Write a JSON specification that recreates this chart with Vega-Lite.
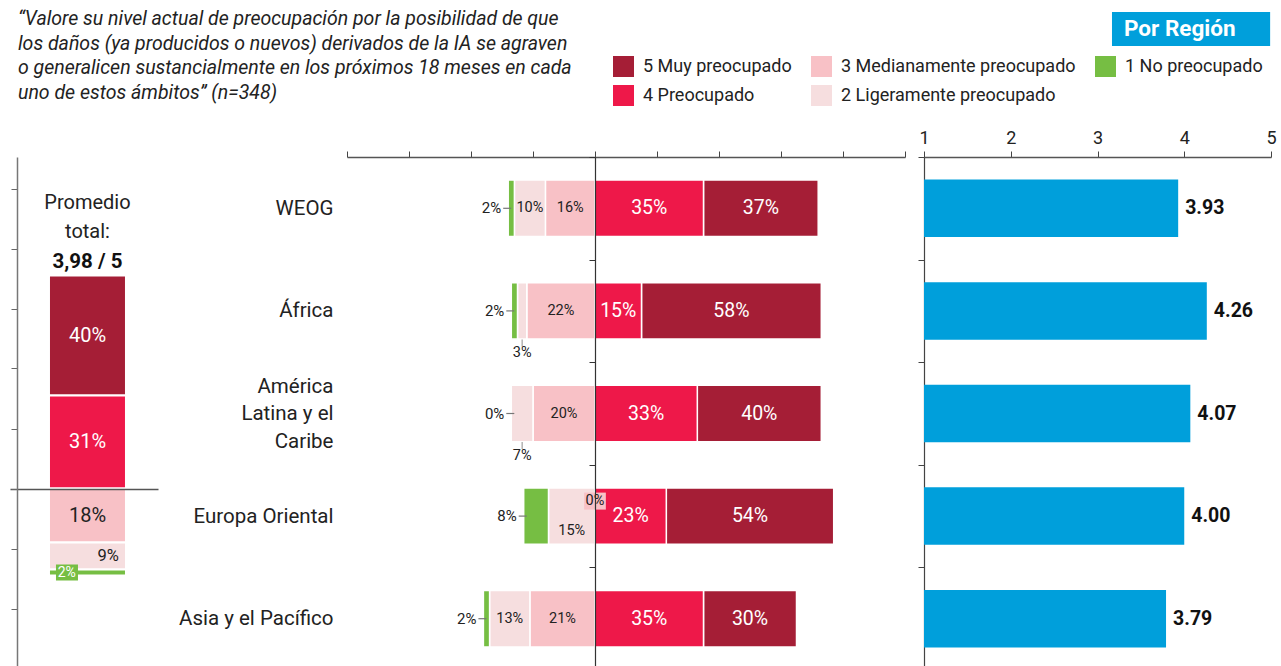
{
  "$schema": "https://vega.github.io/schema/vega-lite/v6.json",
  "width": 1281,
  "height": 666,
  "autosize": {"type": "none"},
  "padding": 0,
  "background": "white",
  "config": {"font": "Roboto", "view": {"stroke": null}, "axis": {"labelFont": "Roboto"}},
  "title": {
    "text": ["“Valore su nivel actual de preocupación por la posibilidad de que", "los daños (ya producidos o nuevos) derivados de la IA se agraven", "o generalicen sustancialmente en los próximos 18 meses en cada", "uno de estos ámbitos” (n=348)"],
    "anchor": "start", "frame": "group", "orient": "top", "offset": -132, "baseline": "bottom", "dx": 18,
    "font": "Roboto", "fontStyle": "italic", "fontWeight": "normal", "fontSize": 19.5, "lineHeight": 24.5, "color": "#222"
  },
  "datasets": {
    "total": [
      {"grp": "Total", "level": 5, "nivel": "5 Muy preocupado", "pct": 40},
      {"grp": "Total", "level": 4, "nivel": "4 Preocupado", "pct": 31},
      {"grp": "Total", "level": 3, "nivel": "3 Medianamente preocupado", "pct": 18},
      {"grp": "Total", "level": 2, "nivel": "2 Ligeramente preocupado", "pct": 9},
      {"grp": "Total", "level": 1, "nivel": "1 No preocupado", "pct": 2}
    ],
    "regions": [
      {"region": "WEOG", "level": 5, "nivel": "5 Muy preocupado", "pct": 37},
      {"region": "WEOG", "level": 4, "nivel": "4 Preocupado", "pct": 35},
      {"region": "WEOG", "level": 3, "nivel": "3 Medianamente preocupado", "pct": 16},
      {"region": "WEOG", "level": 2, "nivel": "2 Ligeramente preocupado", "pct": 10},
      {"region": "WEOG", "level": 1, "nivel": "1 No preocupado", "pct": 2},
      {"region": "África", "level": 5, "nivel": "5 Muy preocupado", "pct": 58},
      {"region": "África", "level": 4, "nivel": "4 Preocupado", "pct": 15},
      {"region": "África", "level": 3, "nivel": "3 Medianamente preocupado", "pct": 22},
      {"region": "África", "level": 2, "nivel": "2 Ligeramente preocupado", "pct": 3},
      {"region": "África", "level": 1, "nivel": "1 No preocupado", "pct": 2},
      {"region": "América Latina y el Caribe", "level": 5, "nivel": "5 Muy preocupado", "pct": 40},
      {"region": "América Latina y el Caribe", "level": 4, "nivel": "4 Preocupado", "pct": 33},
      {"region": "América Latina y el Caribe", "level": 3, "nivel": "3 Medianamente preocupado", "pct": 20},
      {"region": "América Latina y el Caribe", "level": 2, "nivel": "2 Ligeramente preocupado", "pct": 7},
      {"region": "América Latina y el Caribe", "level": 1, "nivel": "1 No preocupado", "pct": 0},
      {"region": "Europa Oriental", "level": 5, "nivel": "5 Muy preocupado", "pct": 54},
      {"region": "Europa Oriental", "level": 4, "nivel": "4 Preocupado", "pct": 23},
      {"region": "Europa Oriental", "level": 3, "nivel": "3 Medianamente preocupado", "pct": 0},
      {"region": "Europa Oriental", "level": 2, "nivel": "2 Ligeramente preocupado", "pct": 15},
      {"region": "Europa Oriental", "level": 1, "nivel": "1 No preocupado", "pct": 8},
      {"region": "Asia y el Pacífico", "level": 5, "nivel": "5 Muy preocupado", "pct": 30},
      {"region": "Asia y el Pacífico", "level": 4, "nivel": "4 Preocupado", "pct": 35},
      {"region": "Asia y el Pacífico", "level": 3, "nivel": "3 Medianamente preocupado", "pct": 21},
      {"region": "Asia y el Pacífico", "level": 2, "nivel": "2 Ligeramente preocupado", "pct": 13},
      {"region": "Asia y el Pacífico", "level": 1, "nivel": "1 No preocupado", "pct": 2}
    ],
    "avg": [
      {"region": "WEOG", "avg": 3.93},
      {"region": "África", "avg": 4.26},
      {"region": "América Latina y el Caribe", "avg": 4.07},
      {"region": "Europa Oriental", "avg": 4.00},
      {"region": "Asia y el Pacífico", "avg": 3.79}
    ]
  },
  "layer": [
    {
      "data": {"name": "total"},
      "transform": [
        {"calculate": "datum.level <= 3 ? -datum.pct : datum.pct", "as": "signed"},
        {"calculate": "abs(datum.level - 3.5)", "as": "ord"},
        {"stack": "signed", "groupby": ["grp"], "sort": [{"field": "ord", "order": "ascending"}], "as": ["y0", "y1"], "offset": "zero"},
        {"calculate": "(datum.y0 + datum.y1) / 2", "as": "mid"},
        {"calculate": "datum.pct + '%'", "as": "label"}
      ],
      "encoding": {
        "x": {"field": "grp", "type": "nominal", "scale": {"range": [10, 158], "paddingInner": 0, "paddingOuter": 0.461, "align": 0.549}, "axis": null}
      },
      "layer": [
        {
          "mark": {"type": "bar", "stroke": "white", "strokeWidth": 2},
          "encoding": {
            "y": {"field": "y0", "type": "quantitative",
              "scale": {"domain": [-59.5, 110.5], "range": [667, 157], "zero": false, "nice": false},
              "axis": {"orient": "left", "offset": -17, "values": [100, 80, 60, 40, 20, 0, -20, -40], "labels": false, "title": null, "tickSize": 6, "tickColor": "#666", "domainColor": "#777", "domainWidth": 1.5, "grid": true, "gridColor": {"condition": {"test": "datum.value === 0", "value": "#555"}, "value": "transparent"}, "gridWidth": 1.5, "zindex": 1}},
            "y2": {"field": "y1"},
            "color": {"field": "nivel", "type": "nominal",
              "scale": {"domain": ["5 Muy preocupado", "3 Medianamente preocupado", "1 No preocupado", "4 Preocupado", "2 Ligeramente preocupado"], "range": ["#A51E36", "#F8C1C6", "#76BE43", "#EE1849", "#F6DEDF"]},
              "legend": {"orient": "none", "legendX": 613, "legendY": 56, "columns": 3, "direction": "horizontal", "title": null, "symbolType": "square", "symbolSize": 441, "symbolStrokeWidth": 0, "labelFontSize": 18, "labelFont": "Roboto", "labelColor": "#222", "labelOffset": 9, "labelLimit": 400, "columnPadding": 19, "rowPadding": 8, "padding": 0}}
          }
        },
        {
          "transform": [{"filter": "datum.level >= 4"}],
          "mark": {"type": "text", "color": "white", "fontSize": 20},
          "encoding": {"y": {"field": "mid", "type": "quantitative"}, "text": {"field": "label"}}
        },
        {
          "transform": [{"filter": "datum.level == 3"}],
          "mark": {"type": "text", "color": "#222", "fontSize": 20},
          "encoding": {"y": {"field": "mid", "type": "quantitative"}, "text": {"field": "label"}}
        },
        {
          "transform": [{"filter": "datum.level == 2"}],
          "mark": {"type": "text", "color": "#222", "fontSize": 16.5},
          "encoding": {"x": {"field": "grp", "type": "nominal", "bandPosition": 0.77}, "y": {"field": "mid", "type": "quantitative"}, "text": {"field": "label"}}
        },
        {
          "transform": [{"filter": "datum.level == 1"}],
          "mark": {"type": "bar", "color": "#76BE43", "width": 22, "xOffset": -20.5, "yOffset": 8, "y2Offset": -8},
          "encoding": {"y": {"field": "mid", "type": "quantitative"}, "y2": {"field": "mid"}}
        },
        {
          "transform": [{"filter": "datum.level == 1"}],
          "mark": {"type": "text", "color": "white", "fontSize": 14},
          "encoding": {"x": {"field": "grp", "type": "nominal", "bandPosition": 0.23}, "y": {"field": "mid", "type": "quantitative"}, "text": {"field": "label"}}
        },
        {
          "data": {"values": [{"grp": "Total"}]},
          "mark": {"type": "text", "color": "#222", "fontSize": 20, "lineHeight": 29, "text": ["Promedio", "total:"]},
          "encoding": {"y": {"datum": 95.2, "type": "quantitative"}}
        },
        {
          "data": {"values": [{"grp": "Total"}]},
          "mark": {"type": "text", "color": "#111", "fontSize": 20.5, "fontWeight": "bold", "text": "3,98 / 5"},
          "encoding": {"y": {"datum": 75.5, "type": "quantitative"}}
        }
      ]
    },
    {
      "data": {"name": "regions"},
      "transform": [
        {"calculate": "datum.level <= 3 ? -datum.pct : datum.pct", "as": "signed"},
        {"calculate": "abs(datum.level - 3.5)", "as": "ord"},
        {"stack": "signed", "groupby": ["region"], "sort": [{"field": "ord", "order": "ascending"}], "as": ["x0", "x1"], "offset": "zero"},
        {"calculate": "(datum.x0 + datum.x1) / 2", "as": "mid"},
        {"joinaggregate": [{"op": "min", "field": "x1", "as": "left"}], "groupby": ["region"]},
        {"calculate": "datum.pct + '%'", "as": "label"}
      ],
      "encoding": {
        "y": {"field": "region", "type": "nominal", "sort": ["WEOG", "África", "América Latina y el Caribe", "Europa Oriental", "Asia y el Pacífico"],
          "scale": {"range": [157, 670], "paddingInner": 0, "paddingOuter": 0},
          "axis": {"orient": "left", "offset": -595, "title": null, "tickBand": "extent", "tickSize": 6, "tickColor": "#333", "domainColor": "#333", "domainWidth": 1.2, "labelPadding": 256, "labelFontSize": 20.5, "labelColor": "#222", "labelFont": "Roboto", "labelLineHeight": 27.5, "labelOffset": {"condition": {"test": "datum.value == 'América Latina y el Caribe'", "value": -27.5}, "value": 0}, "labelExpr": "datum.value == 'América Latina y el Caribe' ? ['América', 'Latina y el', 'Caribe'] : datum.value", "zindex": 1}}
      },
      "layer": [
        {
          "transform": [{"filter": "datum.pct > 0"}],
          "mark": {"type": "bar", "stroke": "white", "strokeWidth": 1.5, "height": {"band": 0.55}},
          "encoding": {
            "x": {"field": "x0", "type": "quantitative", "scale": {"domain": [-80, 100], "range": [347, 905], "zero": false, "nice": false},
              "axis": {"orient": "top", "offset": -157, "values": [-80, -60, -40, -20, 0, 20, 40, 60, 80, 100], "labels": false, "title": null, "grid": false, "tickSize": 6, "tickColor": "#444", "domainColor": "#555", "domainWidth": 1.5}},
            "x2": {"field": "x1"},
            "color": {"field": "nivel", "type": "nominal",
              "scale": {"domain": ["5 Muy preocupado", "3 Medianamente preocupado", "1 No preocupado", "4 Preocupado", "2 Ligeramente preocupado"], "range": ["#A51E36", "#F8C1C6", "#76BE43", "#EE1849", "#F6DEDF"]},
              "legend": {"orient": "none", "legendX": 613, "legendY": 56, "columns": 3, "direction": "horizontal", "title": null, "symbolType": "square", "symbolSize": 441, "symbolStrokeWidth": 0, "labelFontSize": 18, "labelFont": "Roboto", "labelColor": "#222", "labelOffset": 9, "labelLimit": 400, "columnPadding": 19, "rowPadding": 8, "padding": 0}}
          }
        },
        {
          "transform": [{"filter": "datum.level == 1"}],
          "mark": {"type": "rule", "color": "#777", "strokeWidth": 1.2, "xOffset": -5, "x2Offset": 3},
          "encoding": {"x": {"field": "left", "type": "quantitative"}, "x2": {"field": "left"}}
        },
        {
          "transform": [{"filter": "datum.level == 2 && datum.pct > 0 && datum.pct < 10"}],
          "mark": {"type": "tick", "orient": "vertical", "color": "#777", "thickness": 1.2, "size": 7, "yOffset": 32},
          "encoding": {"x": {"field": "mid", "type": "quantitative"}}
        },
        {
          "transform": [{"filter": "datum.level >= 4"}],
          "mark": {"type": "text", "color": "white", "fontSize": 19.5},
          "encoding": {"x": {"field": "mid", "type": "quantitative"}, "text": {"field": "label"}}
        },
        {
          "transform": [{"filter": "(datum.level == 3 && datum.pct > 0) || (datum.level == 2 && datum.pct >= 10 && datum.region != 'Europa Oriental')"}],
          "mark": {"type": "text", "color": "#222", "fontSize": 14.5},
          "encoding": {"x": {"field": "mid", "type": "quantitative"}, "text": {"field": "label"}}
        },
        {
          "transform": [{"filter": "datum.level == 2 && datum.region == 'Europa Oriental'"}],
          "mark": {"type": "text", "color": "#222", "fontSize": 14.5, "dy": 15},
          "encoding": {"x": {"field": "mid", "type": "quantitative"}, "text": {"field": "label"}}
        },
        {
          "transform": [{"filter": "datum.level == 2 && datum.pct > 0 && datum.pct < 10"}],
          "mark": {"type": "text", "color": "#222", "fontSize": 14.5, "dy": 42},
          "encoding": {"x": {"field": "mid", "type": "quantitative"}, "text": {"field": "label"}}
        },
        {
          "transform": [{"filter": "datum.level == 1"}],
          "mark": {"type": "text", "color": "#222", "fontSize": 15, "align": "right", "dx": -7},
          "encoding": {"x": {"field": "left", "type": "quantitative"}, "text": {"field": "label"}}
        },
        {
          "transform": [{"filter": "datum.level == 3 && datum.pct == 0"}],
          "mark": {"type": "bar", "color": "#F8C1C6", "height": 17, "yOffset": -15},
          "encoding": {"x": {"datum": -3.5, "type": "quantitative"}, "x2": {"datum": 3.5}}
        },
        {
          "transform": [{"filter": "datum.level == 3 && datum.pct == 0"}],
          "mark": {"type": "text", "color": "#222", "fontSize": 14.5, "dy": -15},
          "encoding": {"x": {"datum": 0, "type": "quantitative"}, "text": {"field": "label"}}
        }
      ]
    },
    {
      "data": {"name": "avg"},
      "encoding": {
        "y": {"field": "region", "type": "nominal", "sort": ["WEOG", "África", "América Latina y el Caribe", "Europa Oriental", "Asia y el Pacífico"],
          "scale": {"range": [157, 670], "paddingInner": 0, "paddingOuter": 0},
          "axis": {"orient": "left", "offset": -924, "title": null, "labels": false, "tickBand": "extent", "tickSize": 6, "tickColor": "#444", "domainColor": "#444", "domainWidth": 1.2}}
      },
      "layer": [
        {
          "mark": {"type": "bar", "color": "#009FDB", "height": {"band": 0.56}},
          "encoding": {
            "x": {"field": "avg", "type": "quantitative", "scale": {"domain": [1, 5], "range": [924, 1271], "zero": false, "nice": false},
              "axis": {"orient": "top", "offset": -157, "values": [1, 2, 3, 4, 5], "format": "d", "title": null, "grid": false, "tickSize": 6, "tickColor": "#444", "domainColor": "#555", "domainWidth": 1.5, "labelFontSize": 18, "labelColor": "#222", "labelPadding": 4, "labelFlush": false}},
            "x2": {"datum": 1}
          }
        },
        {
          "mark": {"type": "text", "align": "left", "dx": 7, "fontSize": 19.5, "fontWeight": "bold", "color": "#111"},
          "encoding": {"x": {"field": "avg", "type": "quantitative"}, "text": {"field": "avg", "format": ".2f"}}
        }
      ]
    },
    {
      "data": {"values": [{"t": "Por Región"}]},
      "layer": [
        {
          "mark": {"type": "rect", "color": "#009FDB"},
          "encoding": {
            "x": {"datum": 3.167, "type": "quantitative", "scale": {"domain": [1, 5], "range": [924, 1271], "zero": false, "nice": false}, "axis": null},
            "x2": {"datum": 4.99},
            "y": {"datum": 0, "type": "quantitative", "scale": {"domain": [0, 1], "range": [46, 12], "zero": false, "nice": false}, "axis": null},
            "y2": {"datum": 1}
          }
        },
        {
          "mark": {"type": "text", "align": "left", "dx": 12, "color": "white", "fontSize": 22.5, "fontWeight": "bold"},
          "encoding": {
            "x": {"datum": 3.167, "type": "quantitative", "axis": null},
            "y": {"datum": 0.5, "type": "quantitative", "axis": null},
            "text": {"field": "t"}
          }
        }
      ]
    }
  ],
  "resolve": {"scale": {"x": "independent", "y": "independent"}, "axis": {"x": "independent", "y": "independent"}}
}
